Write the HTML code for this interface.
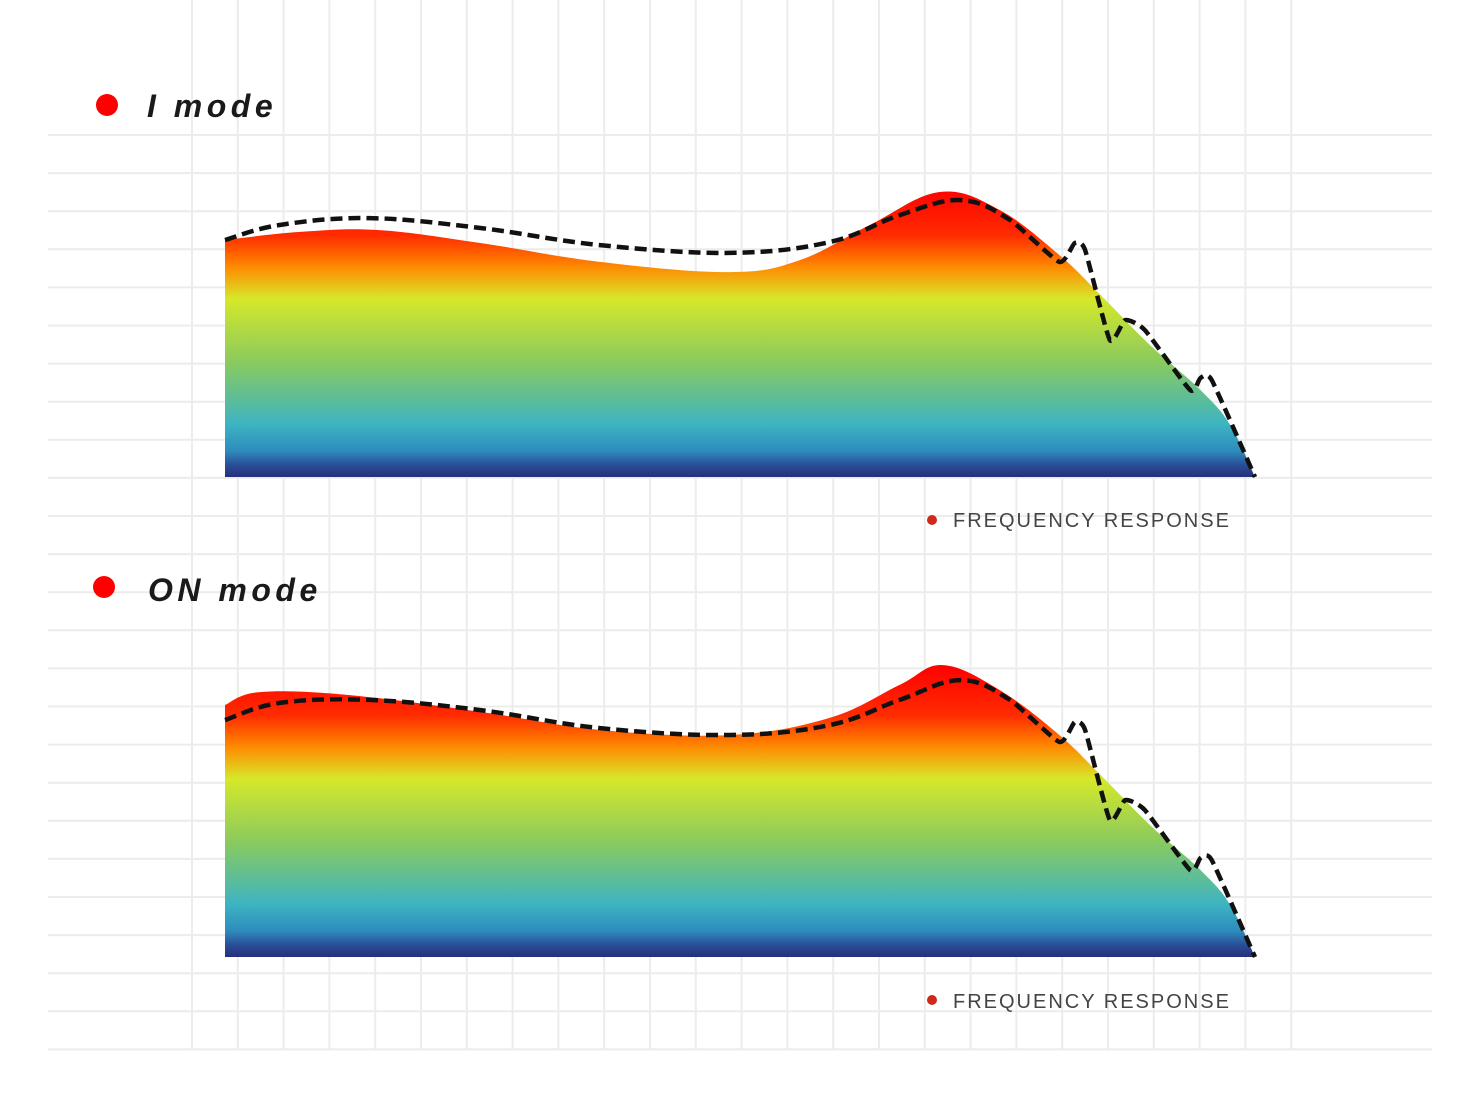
<!DOCTYPE html>
<html><head><meta charset="utf-8"><style>
html,body{margin:0;padding:0;background:#fff;}
svg{display:block;}
</style></head><body>
<svg id="chart" width="1482" height="1112" viewBox="0 0 1482 1112" xmlns="http://www.w3.org/2000/svg">
<defs>
<linearGradient id="g1" gradientUnits="userSpaceOnUse" x1="0" y1="185" x2="0" y2="477">
<stop offset="0" stop-color="#ff0000"/><stop offset="0.17" stop-color="#ff2a00"/><stop offset="0.28" stop-color="#ff8a00"/><stop offset="0.39" stop-color="#d6e82a"/><stop offset="0.6" stop-color="#8ccb5c"/><stop offset="0.82" stop-color="#3db4c2"/><stop offset="0.91" stop-color="#2e8cbd"/><stop offset="0.96" stop-color="#2a4d98"/><stop offset="1" stop-color="#262f78"/>
</linearGradient>
<linearGradient id="g2" gradientUnits="userSpaceOnUse" x1="0" y1="665" x2="0" y2="957">
<stop offset="0" stop-color="#ff0000"/><stop offset="0.17" stop-color="#ff2a00"/><stop offset="0.28" stop-color="#ff8a00"/><stop offset="0.39" stop-color="#d6e82a"/><stop offset="0.6" stop-color="#8ccb5c"/><stop offset="0.82" stop-color="#3db4c2"/><stop offset="0.91" stop-color="#2e8cbd"/><stop offset="0.96" stop-color="#2a4d98"/><stop offset="1" stop-color="#262f78"/>
</linearGradient>
</defs>
<g id="grid"></g>
<g id="plots"></g>
<g>
<circle cx="107" cy="105" r="11" fill="#f00"/>
<text x="147" y="117" font-family="Liberation Sans, sans-serif" font-size="32" font-style="italic" font-weight="bold" fill="#1a1a1a" letter-spacing="4.5">I mode</text>
</g>
<g>
<circle cx="104" cy="587" r="11" fill="#f00"/>
<text x="148" y="601" font-family="Liberation Sans, sans-serif" font-size="32" font-style="italic" font-weight="bold" fill="#1a1a1a" letter-spacing="4.5">ON mode</text>
</g>
<g>
<circle cx="932" cy="520" r="5" fill="#d0281c"/>
<text x="953" y="527" font-family="Liberation Sans, sans-serif" font-size="20" fill="#444" letter-spacing="2">FREQUENCY RESPONSE</text>
</g>
<g>
<circle cx="932" cy="1000" r="5" fill="#d0281c"/>
<text x="953" y="1008" font-family="Liberation Sans, sans-serif" font-size="20" fill="#444" letter-spacing="2">FREQUENCY RESPONSE</text>
</g>
</svg>
<script>
// Data arrays (x in 0..100 frequency units, y in response units)
const topAreaX = [0,7.3,15,24.8,36.4,49,55.8,62.6,69.4,75.2,81,85,89.8,94.7,97.6,100];
const topAreaY = [79,81.7,82.3,78,71.7,68.3,72.3,84,95,89,74,60.7,44,29,17.3,0];
const topLineX = [0,5.3,14,24.8,36.4,49,58.7,65.5,71.4,76.2,81,82.5,83.5,85.9,87.4,89.3,93.7,94.7,95.8,100];
const topLineY = [79,84,86.3,83,77.3,74.7,78.3,87.3,92.3,85.7,71.7,78,75.7,45.7,52.3,49,29,33,32.3,0];
const botAreaX = [0,3.4,12.1,24.8,36.4,49,58.7,65.5,69.7,75.2,81,85,89.8,94.7,97.6,100];
const botAreaY = [84,88.3,87.3,81.7,75.7,74,79.7,90.7,97.3,89,74,60.7,44,29,17.3,0];
const botLineX = [0,5.3,14,24.8,36.4,49,58.7,65.5,71.4,76.2,81,82.5,83.5,85.9,87.4,89.3,93.7,94.7,95.8,100];
const botLineY = [79,84.7,85.7,82.3,76.3,74,77.3,85.7,92.3,85.7,71.7,78.3,75.7,45.7,52.3,49,29,33,32.3,0];

const NS='http://www.w3.org/2000/svg';
const xScale = u => 225 + u*10.3;
const yScale = (v, base) => base - v*3;

const grid=document.getElementById('grid');
for(let i=0;i<25;i++){
  const x=192+i*45.8;
  const l=document.createElementNS(NS,'line');
  l.setAttribute('x1',x);l.setAttribute('x2',x);l.setAttribute('y1',0);l.setAttribute('y2',1050);
  l.setAttribute('stroke','#ececec');l.setAttribute('stroke-width','2');
  
  
  grid.appendChild(l);
}
for(let i=0;i<25;i++){
  const y=135+i*38.1;
  const l=document.createElementNS(NS,'line');
  l.setAttribute('x1',48);l.setAttribute('x2',1432);l.setAttribute('y1',y);l.setAttribute('y2',y);
  l.setAttribute('stroke','#ececec');l.setAttribute('stroke-width','2');
  
  
  grid.appendChild(l);
}

function smooth(pts, sharpFrom){
  let d='M'+pts[0][0]+','+pts[0][1];
  for(let i=0;i<pts.length-1;i++){
    const p0=pts[Math.max(0,i-1)],p1=pts[i],p2=pts[i+1],p3=pts[Math.min(pts.length-1,i+2)];
    const t=(sharpFrom!==undefined && i>=sharpFrom)?0.09:0.18;
    const c1=[p1[0]+(p2[0]-p0[0])*t,p1[1]+(p2[1]-p0[1])*t];
    const c2=[p2[0]-(p3[0]-p1[0])*t,p2[1]-(p3[1]-p1[1])*t];
    d+=' C'+c1[0]+','+c1[1]+' '+c2[0]+','+c2[1]+' '+p2[0]+','+p2[1];
  }
  return d;
}
const plots=document.getElementById('plots');
function drawPanel(ax,ay,lx,ly,base,grad,name){
  const ap=ax.map((u,i)=>[xScale(u),yScale(ay[i],base)]);
  const area=document.createElementNS(NS,'path');
  area.setAttribute('d',smooth(ap)+' L'+xScale(0)+','+base+' Z');
  area.setAttribute('fill','url(#'+grad+')');
  
  
  plots.appendChild(area);
  const lp=lx.map((u,i)=>[xScale(u),yScale(ly[i],base)]);
  const line=document.createElementNS(NS,'path');
  line.setAttribute('d',smooth(lp,9));
  line.setAttribute('fill','none');line.setAttribute('stroke','#111');
  line.setAttribute('stroke-width','4.5');line.setAttribute('stroke-dasharray','12 6');
  
  
  plots.appendChild(line);
}
drawPanel(topAreaX,topAreaY,topLineX,topLineY,477,'g1','i-mode');
drawPanel(botAreaX,botAreaY,botLineX,botLineY,957,'g2','on-mode');
</script>
</body></html>
